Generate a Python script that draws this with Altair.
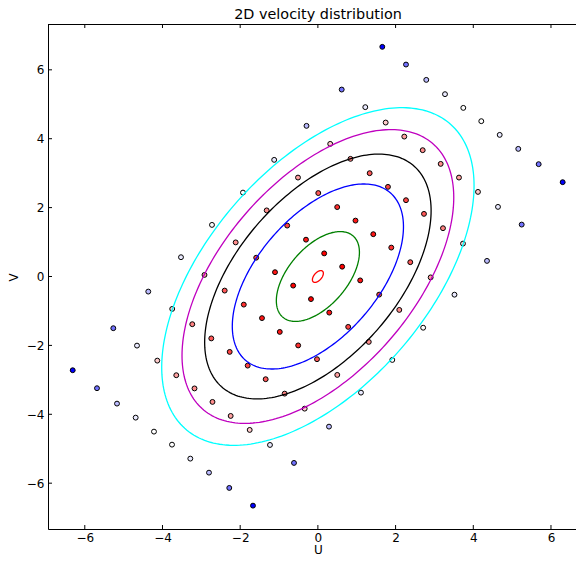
import altair as alt
import numpy as np
import pandas as pd

# ---- scatter points, one list per diagonal row ----
U_ROWS = [
    [1.658, 2.268, 2.790, 3.272, 3.743, 4.206, 4.680, 5.158, 5.683, 6.301],
    [0.613, 1.220, 1.745, 2.224, 2.698, 3.161, 3.632, 4.121, 4.636, 5.246],
    [-0.293, 0.317, 0.839, 1.333, 1.804, 2.268, 2.731, 3.220, 3.735, 4.353],
    [-1.125, -0.512, 0.010, 0.497, 0.968, 1.426, 1.889, 2.378, 2.903, 3.516],
    [-1.928, -1.318, -0.790, -0.306, 0.162, 0.625, 1.089, 1.578, 2.095, 2.710],
    [-2.726, -2.116, -1.588, -1.104, -0.636, -0.178, 0.293, 0.780, 1.310, 1.915],
    [-3.524, -2.919, -2.399, -1.907, -1.439, -0.981, -0.507, -0.023, 0.499, 1.109],
    [-4.366, -3.750, -3.233, -2.744, -2.270, -1.807, -1.344, -0.855, -0.340, 0.286],
    [-5.266, -4.656, -4.134, -3.645, -3.176, -2.713, -2.245, -1.755, -1.233, -0.615],
    [-6.311, -5.686, -5.171, -4.690, -4.219, -3.755, -3.284, -2.803, -2.281, -1.671],
]
V_ROWS = [
    [6.667, 6.153, 5.708, 5.293, 4.895, 4.509, 4.111, 3.705, 3.261, 2.738],
    [5.427, 4.916, 4.469, 4.062, 3.667, 3.269, 2.872, 2.456, 2.021, 1.507],
    [4.373, 3.850, 3.415, 2.999, 2.602, 2.215, 1.818, 1.402, 0.955, 0.453],
    [3.386, 2.872, 2.422, 2.015, 1.623, 1.228, 0.839, 0.415, -0.026, -0.528],
    [2.436, 1.919, 1.478, 1.069, 0.671, 0.285, -0.113, -0.526, -0.970, -1.487],
    [1.498, 0.990, 0.546, 0.125, -0.264, -0.656, -1.048, -1.463, -1.899, -2.422],
    [0.560, 0.046, -0.409, -0.816, -1.208, -1.609, -2.001, -2.401, -2.857, -3.371],
    [-0.438, -0.941, -1.385, -1.797, -2.189, -2.587, -2.982, -3.400, -3.836, -4.358],
    [-1.501, -2.006, -2.442, -2.866, -3.249, -3.641, -4.048, -4.454, -4.890, -5.412],
    [-2.721, -3.243, -3.690, -4.097, -4.503, -4.881, -5.287, -5.694, -6.138, -6.652],
]
# colour value of each point (log weight; blue = low, white = middle, red = high)
C_ROWS = [
    [-10.2, -8.0, -6.6, -5.7, -5.3, -5.3, -5.7, -6.6, -8.0, -10.2],
    [-8.0, -5.7, -4.3, -3.5, -3.1, -3.1, -3.5, -4.3, -5.7, -8.0],
    [-6.6, -4.3, -2.9, -2.1, -1.7, -1.7, -2.1, -2.9, -4.3, -6.6],
    [-5.7, -3.5, -2.1, -1.3, -0.8, -0.8, -1.3, -2.1, -3.5, -5.7],
    [-5.3, -3.1, -1.7, -0.8, -0.4, -0.4, -0.8, -1.7, -3.1, -5.3],
    [-5.3, -3.1, -1.7, -0.8, -0.4, -0.4, -0.8, -1.7, -3.1, -5.3],
    [-5.7, -3.5, -2.1, -1.3, -0.8, -0.8, -1.3, -2.1, -3.5, -5.7],
    [-6.6, -4.3, -2.9, -2.1, -1.7, -1.7, -2.1, -2.9, -4.3, -6.6],
    [-8.0, -5.7, -4.3, -3.5, -3.1, -3.1, -3.5, -4.3, -5.7, -8.0],
    [-10.2, -8.0, -6.6, -5.7, -5.3, -5.3, -5.7, -6.6, -8.0, -10.2],
]

# ---- contour ellipses (shape matrix + relative size of each level) ----
ELLIPSE_MATRIX = [[16.16, 10.60], [10.60, 24.02]]
LEVEL_SCALES = [0.035, 0.266, 0.548, 0.725, 0.87, 1.0]
LEVEL_NAMES = ["r", "g", "b", "k", "m", "c"]
LEVEL_COLORS = ["#ff0000", "#008000", "#0000ff", "#000000", "#bf00bf", "#00ffff"]

X_TICKS = [-6, -4, -2, 0, 2, 4, 6]
Y_TICKS = [-6, -4, -2, 0, 2, 4, 6]
TITLE = "2D velocity distribution"

W, H = 528, 505
X_DOMAIN = [-6.947, 6.644]
Y_DOMAIN = [-7.33, 7.33]
FONT = "DejaVu Sans"

pts = pd.DataFrame({
    "u": [u for row in U_ROWS for u in row],
    "v": [v for row in V_ROWS for v in row],
    "c": [c for row in C_ROWS for c in row],
})

L = np.linalg.cholesky(np.array(ELLIPSE_MATRIX))
t = np.linspace(0, 2 * np.pi, 241)
circle = np.vstack([np.cos(t), np.sin(t)])
recs = []
for name, s in zip(LEVEL_NAMES, LEVEL_SCALES):
    e = s * (L @ circle)
    for i in range(e.shape[1]):
        recs.append({"lvl": name, "i": i, "u": e[0, i], "v": e[1, i]})
cont = pd.DataFrame(recs)

xs = alt.Scale(domain=X_DOMAIN, nice=False, zero=False)
ys = alt.Scale(domain=Y_DOMAIN, nice=False, zero=False)

x_axis = alt.Axis(values=X_TICKS, tickSize=0, ticks=False, grid=False, domain=True,
                  domainColor="black", domainWidth=1, labelFont=FONT, labelFontSize=12,
                  labelColor="black", labelPadding=12, labelBaseline="alphabetic",
                  title="U", titleFont=FONT, titleFontSize=12, titleFontWeight="normal",
                  titleColor="black", titleX=270, titleY=24.8, titleBaseline="alphabetic",
                  titleAlign="center", labelFlush=False)
y_axis = alt.Axis(values=Y_TICKS, tickSize=0, ticks=False, grid=False, domain=True,
                  domainColor="black", domainWidth=1, labelFont=FONT, labelFontSize=12,
                  labelColor="black", labelPadding=4, title="V", titleFont=FONT,
                  titleFontSize=12, titleFontWeight="normal", titleColor="black",
                  titleX=-30.8, titleY=253, titleAngle=270, titleBaseline="alphabetic",
                  titleAlign="center", labelFlush=False)

scatter = alt.Chart(pts).mark_point(filled=True, shape="circle", size=24, stroke="black",
                                    strokeWidth=1, opacity=1).encode(
    x=alt.X("u:Q", scale=xs, axis=x_axis),
    y=alt.Y("v:Q", scale=ys, axis=y_axis),
    fill=alt.Fill("c:Q", scale=alt.Scale(domain=[-10.2, -5.3, -0.4],
                                         range=["#0000ff", "#ffffff", "#ff0000"],
                                         interpolate="rgb"), legend=None),
)

contours = alt.Chart(cont).mark_line(strokeWidth=1.3).encode(
    x=alt.X("u:Q", scale=xs),
    y=alt.Y("v:Q", scale=ys),
    color=alt.Color("lvl:N", scale=alt.Scale(domain=LEVEL_NAMES, range=LEVEL_COLORS), legend=None),
    order="i:Q",
)

xt = pd.DataFrame({"t": X_TICKS})
yt = pd.DataFrame({"t": Y_TICKS})
bottom_ticks = alt.Chart(xt).mark_rule(color="black", strokeWidth=1).encode(
    x=alt.X("t:Q", scale=xs), y=alt.value(H), y2=alt.value(H - 4))
top_ticks = alt.Chart(xt).mark_rule(color="black", strokeWidth=1).encode(
    x=alt.X("t:Q", scale=xs), y=alt.value(0), y2=alt.value(4))
left_ticks = alt.Chart(yt).mark_rule(color="black", strokeWidth=1).encode(
    y=alt.Y("t:Q", scale=ys), x=alt.value(0), x2=alt.value(4))
top_spine = alt.Chart(xt).mark_rule(color="black", strokeWidth=1).encode(
    x=alt.value(0), x2=alt.value(W), y=alt.value(0.5))
title_text = alt.Chart(pd.DataFrame({"title": [TITLE]})).mark_text(
    font=FONT, fontSize=14.4, color="black", align="center", baseline="alphabetic"
).encode(text="title:N", x=alt.value(270), y=alt.value(-4.8))

chart = alt.layer(scatter, contours, bottom_ticks, top_ticks, left_ticks,
                  top_spine, title_text).properties(
    width=W, height=H,
    padding={"left": 40, "top": 16, "right": 0, "bottom": 25},
    autosize=alt.AutoSizeParams(type="none"),
).configure_view(stroke=None).configure(background="white")

chart.save("out.html", embed_options={"renderer": "svg", "actions": False})
